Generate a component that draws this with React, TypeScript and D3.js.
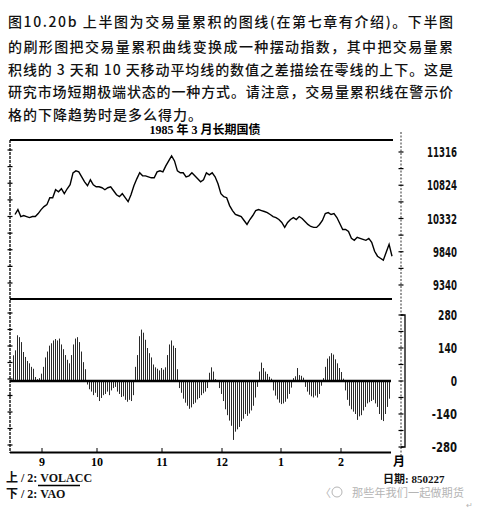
import React, { useEffect, useRef } from 'react'
import * as d3 from 'd3'

const captionLines = [
  '图10.20b  上半图为交易量累积的图线(在第七章有介绍)。下半图',
  '的刷形图把交易量累积曲线变换成一种摆动指数，其中把交易量累',
  '积线的 3 天和 10 天移动平均线的数值之差描绘在零线的上下。这是',
  '研究市场短期极端状态的一种方式。请注意，交易量累积线在警示价',
  '格的下降趋势时是多么得力。',
]
const chartTitle = '1985 年 3 月长期国债'

// upper panel: volume accumulation (daily)
const volacc = [
  10391, 10464, 10361, 10376, 10361, 10346, 10361, 10361, 10405, 10464,
  10508, 10537, 10640, 10640, 10758, 10728, 10772, 10699, 10772, 10831,
  11008, 11037, 11022, 10949, 10875, 10817, 10905, 10831, 10802, 10802,
  10787, 10758, 10787, 10802, 10743, 10684, 10655, 10699, 10640, 10581,
  10684, 10817, 10919, 11008, 10963, 10963, 10949, 10934, 10934, 11022,
  11037, 11022, 11110, 11184, 11257, 11184, 11037, 11008, 11008, 10949,
  10963, 11008, 10963, 10919, 10875, 10905, 11008, 10978, 11008, 10949,
  10846, 10699, 10655, 10640, 10523, 10449, 10391, 10376, 10361, 10302,
  10244, 10317, 10376, 10449, 10464, 10449, 10435, 10420, 10391, 10361,
  10346, 10317, 10273, 10200, 10273, 10317, 10346, 10317, 10361, 10332,
  10288, 10244, 10214, 10200, 10200, 10244, 10302, 10405, 10420, 10391,
  10405, 10346, 10258, 10170, 10170, 10141, 10038, 10009, 10053, 10038,
  10023, 10009, 10038, 9979, 9847, 9774, 9744, 9715, 9832, 9950, 9774,
]

// lower panel: VAO oscillator (3-day minus 10-day average)
const vao = [
  109, 130, 194, 186, 165, 123, 102, 85, 75, 60, 52, 17, 8, 12, 31, 60, 100, 125, 150, 160,
  172, 178, 172, 180, 155, 135, 110, 90, 75, 110, 155, 180, 186, 165, 125, 80, 50,
  -15, -35, -45, -60, -50, -68, -85, -72, -60, -55, -45, -60, -40, -30, -25, -45, -55, -68,
  -65, -80, -88, -80, -85, -60,
  60, 110, 190, 218, 205, 175, 140, 118, 100, 70, 58, 52, 45, 55, 48, 58, 110, 155, 172,
  150, 140, 50,
  -30, -50, -75, -92, -105, -118, -112, -98, -92, -78, -72, -60, -52, -45, -30,
  35, 58, 40, 8, 4,
  -30, -55, -85, -120, -145, -168, -190, -250, -215, -205, -195, -170, -160, -140, -148,
  -138, -125, -105, -70, -25,
  40, 78, 55, 40, 30, 18, 10,
  -40, -62, -78, -92, -98, -95, -88, -75, -55, -28,
  12, 20, 55, 25, 22, 14,
  -25, -45, -58, -65, -70, -62, -70, -55, -20,
  12, 60, 95, 105, 118, 112, 92, 75, 55, 38, 10,
  -40, -80, -105, -120, -130, -140, -165, -150, -145, -125, -110, -95, -90, -85, -80, -95,
  -110, -140, -165, -170, -140, -110, -75,
]

const upperTicks = [11316, 10824, 10332, 9840, 9348]
const upperTickLabels = ['11316', '10824', '10332', '9840', '9340']
const lowerTicks = [280, 140, 0, -140, -280]
const monthLabels = ['9', '10', '11', '12', '1', '2']
const monthStart = [14.5, 42, 74.5, 104.5, 134, 164] // position in trading days (bar index)

const W = 478
const H = 513
const serif = '"Liberation Serif", "Noto Sans CJK SC", serif'
const cjk = '"Noto Sans CJK SC", sans-serif'
const narrow = '"Liberation Sans Narrow", "DejaVu Sans Condensed", sans-serif'

const App = () => {
  const ref = useRef<SVGSVGElement>(null)

  useEffect(() => {
    const svg = d3.select(ref.current)
    svg.selectAll('*').remove()

    const left = 10
    const right = 401
    const xBar = d3.scaleLinear().domain([0, vao.length - 1]).range([13, 389])
    const xLine = d3.scaleLinear().domain([0, volacc.length - 1]).range([15, 392])
    const yUp = d3.scaleLinear().domain([9348, 11316]).range([285, 152])
    const yLo = d3.scaleLinear().domain([-280, 280]).range([447, 315])

    // caption
    svg
      .append('g')
      .attr('font-family', cjk)
      .attr('font-size', 14)
      .attr('font-weight', 500)
      .attr('fill', '#111')
      .selectAll('text')
      .data(captionLines)
      .join('text')
      .attr('x', 8)
      .attr('y', (d, i) => [26.5, 51.5, 75, 97, 119.5][i])
      .attr('textLength', (d, i) => (i < 4 ? 445 : 194))
      .attr('lengthAdjust', 'spacing')
      .text(d => d)

    svg // chart title
      .append('text')
      .attr('x', 205)
      .attr('y', 134)
      .attr('text-anchor', 'middle')
      .attr('font-family', serif)
      .attr('font-weight', 'bold')
      .attr('font-size', 12)
      .text(chartTitle)

    // frame lines
    const frame = svg.append('g').attr('stroke', '#000')
    frame.append('line').attr('x1', left).attr('x2', 393).attr('y1', 140).attr('y2', 140).attr('stroke-width', 2)
    frame.append('line').attr('x1', left).attr('x2', 392).attr('y1', 299).attr('y2', 299).attr('stroke-width', 2)
    frame.append('line').attr('x1', left).attr('x2', 391).attr('y1', 452.5).attr('y2', 452.5).attr('stroke-width', 2)
    frame.append('line').attr('x1', left).attr('x2', left).attr('y1', 140).attr('y2', 453).attr('stroke-width', 1.3).attr('stroke-dasharray', '3,1')
    frame.append('line').attr('x1', right).attr('x2', right).attr('y1', 132).attr('y2', 460).attr('stroke-width', 1).attr('stroke-dasharray', '2,1.5').attr('stroke', '#333')
    // bracket on lower scale
    frame.append('path').attr('fill', 'none').attr('stroke-width', 1.3)
      .attr('d', `M${right},${yLo(280)}H${right + 4}V${yLo(-280)}H${right}`)

    // tick crosses on both axes
    const upTickVals = d3.range(0, 9).map(k => 11316 - 246 * k)
    const loTickVals = d3.range(0, 9).map(k => 280 - 70 * k)
    const tickYs = [...upTickVals.map(v => yUp(v)), ...loTickVals.map(v => yLo(v))]
    const ticks = svg.append('g').attr('stroke', '#000').attr('stroke-width', 1.2)
    ;[left, right].forEach(ax => {
      ticks
        .selectAll(null)
        .data(tickYs)
        .join('line')
        .attr('x1', ax - 2.5)
        .attr('x2', ax + 2.5)
        .attr('y1', d => (ax === left ? d - 2 : d))
        .attr('y2', d => (ax === left ? d - 2 : d))
    })

    // right labels, squeezed like the condensed print face
    const lab = svg
      .append('g')
      .attr('font-family', narrow)
      .attr('font-weight', 'bold')
      .attr('font-size', 13.5)
      .attr('text-anchor', 'end')
      .attr('fill', '#111')
      .attr('lengthAdjust', 'spacingAndGlyphs')
    lab
      .selectAll(null)
      .data(upperTicks)
      .join('text')
      .attr('x', 457)
      .attr('y', d => yUp(d) + 5)
      .attr('lengthAdjust', 'spacingAndGlyphs')
      .attr('textLength', (d, i) => upperTickLabels[i].length * 6)
      .text((d, i) => upperTickLabels[i])
    lab
      .selectAll(null)
      .data(lowerTicks)
      .join('text')
      .attr('x', 457)
      .attr('y', d => yLo(d) + 5)
      .attr('lengthAdjust', 'spacingAndGlyphs')
      .attr('textLength', d => String(d).length * 6.3)
      .text(d => d)

    // volume accumulation line
    const line = d3
      .line<number>()
      .x((d, i) => xLine(i))
      .y(d => yUp(d))
    svg
      .append('path')
      .datum(volacc)
      .attr('fill', 'none')
      .attr('stroke', '#000')
      .attr('stroke-width', 1.4)
      .attr('stroke-linejoin', 'miter')
      .attr('d', line)

    // oscillator bars (crisp 1px hatch)
    svg
      .append('g')
      .attr('stroke', '#2a2a2a')
      .attr('stroke-width', 1)
      .selectAll('line')
      .data(vao)
      .join('line')
      .attr('x1', (d, i) => Math.round(xBar(i)) + 0.5)
      .attr('x2', (d, i) => Math.round(xBar(i)) + 0.5)
      .attr('y1', yLo(0))
      .attr('y2', d => yLo(d))

    svg // zero line
      .append('line')
      .attr('x1', left)
      .attr('x2', 391)
      .attr('y1', yLo(0))
      .attr('y2', yLo(0))
      .attr('stroke', '#000')
      .attr('stroke-width', 2.5)

    // month ticks + labels
    const months = svg.append('g')
    months
      .selectAll('line')
      .data(monthStart)
      .join('line')
      .attr('x1', d => xBar(d))
      .attr('x2', d => xBar(d))
      .attr('y1', 452)
      .attr('y2', 448)
      .attr('stroke', '#000')
    months
      .selectAll('text')
      .data(monthLabels)
      .join('text')
      .attr('x', (d, i) => xBar(monthStart[i]))
      .attr('y', 466)
      .attr('text-anchor', 'middle')
      .attr('font-family', serif)
      .attr('font-weight', 'bold')
      .attr('font-size', 12)
      .text(d => d)
    months
      .append('text')
      .attr('x', 399)
      .attr('y', 466)
      .attr('text-anchor', 'middle')
      .attr('font-family', serif)
      .attr('font-weight', 'bold')
      .attr('font-size', 12)
      .text('月')

    // legend
    const leg = svg.append('g').attr('font-family', serif).attr('font-weight', 'bold').attr('font-size', 12).attr('fill', '#111')
    leg.append('text').attr('x', 6).attr('y', 482).text('上 / 2: VOLACC')
    leg.append('line').attr('x1', 38).attr('x2', 80).attr('y1', 485.5).attr('y2', 485.5).attr('stroke', '#000').attr('stroke-width', 1.5)
    leg.append('text').attr('x', 6).attr('y', 498).text('下 / 2: VAO')
    leg.append('text').attr('x', 383).attr('y', 483).attr('font-size', 11).text('日期: 850227')

    // watermark
    const wm = svg.append('g').attr('fill', '#b5b5b5')
    wm.append('text').attr('x', 320).attr('y', 497).attr('font-family', cjk).attr('font-size', 11).text('〈')
    wm.append('circle').attr('cx', 337).attr('cy', 492).attr('r', 5).attr('fill', 'none').attr('stroke', '#b5b5b5')
    wm.append('text').attr('x', 352).attr('y', 497).attr('font-family', cjk).attr('font-size', 11.2).text('那些年我们一起做期货')
    wm.append('text').attr('x', 466).attr('y', 508).attr('font-family', cjk).attr('font-size', 8).text('↵')
  }, [])

  return (
    <svg
      ref={ref}
      width={W}
      height={H}
      style={{ position: 'absolute', left: 0, top: 0, background: '#fff' }}
    />
  )
}

export default App
